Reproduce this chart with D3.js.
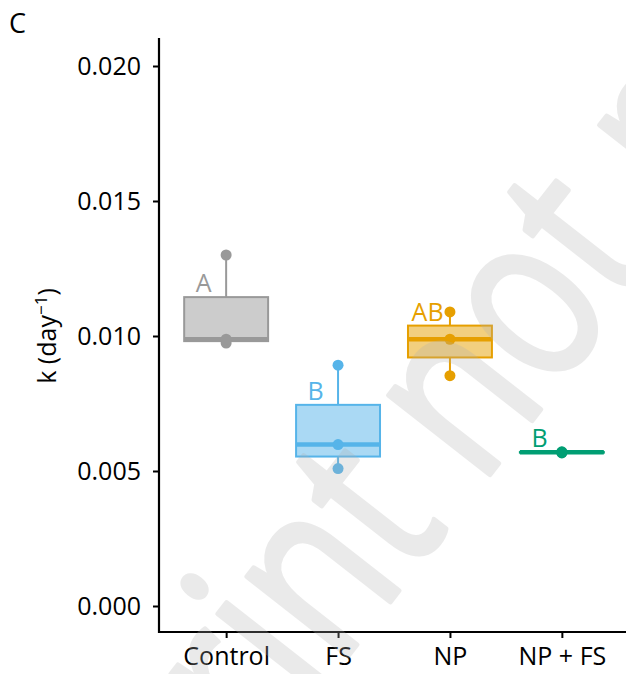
<!DOCTYPE html>
<html>
<head>
<meta charset="utf-8">
<script src="https://cdn.jsdelivr.net/npm/d3@7"></script>
<style>
  body { margin: 0; background: #fff; }
  svg text { font-family: "Open Sans", "Noto Sans", sans-serif; }
</style>
</head>
<body>
<div></div>
<script>
var outerWidth  = 626;
var outerHeight = 674;

// data
var groups  = ["Control", "FS", "NP", "NP + FS"];
var colors  = ["#999999", "#56B4E9", "#E69F00", "#009E73"];
var letters = ["A", "B", "AB", "B"];
var kControl = [0.00974, 0.00988, 0.01300];
var kFS      = [0.00509, 0.00598, 0.00892];
var kNP      = [0.00853, 0.00988, 0.01089];
var kNPFS    = [0.00567, 0.00569, 0.00571];
var yTicks   = [0.000, 0.005, 0.010, 0.015, 0.020];

var values = [kControl, kFS, kNP, kNPFS];

var svg = d3.select("div").append("svg")
  .attr("width", outerWidth)
  .attr("height", outerHeight);

var panel = { left: 159, right: 629, top: 38, bottom: 632 };

var xScale = d3.scalePoint().domain(groups)
  .range([panel.left, panel.right]).padding(0.6);
var step = xScale.step();
var yScale = d3.scaleLinear()
  .domain([-0.000963, 0.021037])
  .range([panel.bottom, panel.top]);

// summary stats, same as R's default quantile
var stats = groups.map(function (g, i) {
  var v = values[i].slice().sort(d3.ascending);
  return {
    group: g, color: colors[i], letter: letters[i], pts: v,
    min: v[0], max: v[v.length - 1],
    q1: d3.quantile(v, 0.25), med: d3.quantile(v, 0.5), q3: d3.quantile(v, 0.75)
  };
});

var g = svg.append("g");
var bw = step * 0.75;

var box = g.selectAll("g.box").data(stats).enter().append("g").attr("class", "box");

// whiskers
box.append("line")
  .attr("x1", function (d) { return xScale(d.group); })
  .attr("x2", function (d) { return xScale(d.group); })
  .attr("y1", function (d) { return yScale(d.q3); })
  .attr("y2", function (d) { return yScale(d.max); })
  .attr("stroke", function (d) { return d.color; })
  .attr("stroke-width", 2);
box.append("line")
  .attr("x1", function (d) { return xScale(d.group); })
  .attr("x2", function (d) { return xScale(d.group); })
  .attr("y1", function (d) { return yScale(d.q1); })
  .attr("y2", function (d) { return yScale(d.min); })
  .attr("stroke", function (d) { return d.color; })
  .attr("stroke-width", 2);

box.append("rect")
  .attr("x", function (d) { return xScale(d.group) - bw / 2; })
  .attr("width", bw)
  .attr("y", function (d) { return yScale(d.q3); })
  .attr("height", function (d) { return yScale(d.q1) - yScale(d.q3); })
  .attr("fill", function (d) { return d.color; })
  .attr("fill-opacity", 0.5)
  .attr("stroke", function (d) { return d.color; })
  .attr("stroke-width", 2);

box.append("line")
  .attr("x1", function (d) { return xScale(d.group) - bw / 2; })
  .attr("x2", function (d) { return xScale(d.group) + bw / 2; })
  .attr("y1", function (d) { return yScale(d.med); })
  .attr("y2", function (d) { return yScale(d.med); })
  .attr("stroke", function (d) { return d.color; })
  .attr("stroke-width", 4.5);

box.selectAll("circle").data(function (d) {
    return d.pts.map(function (p) { return { group: d.group, color: d.color, v: p }; });
  })
  .enter().append("circle")
  .attr("cx", function (d) { return xScale(d.group); })
  .attr("cy", function (d) { return yScale(d.v); })
  .attr("r", 5.5)
  .attr("fill", function (d) { return d.color; });

box.append("text")
  .attr("x", function (d) { return xScale(d.group) - step * 0.2; })
  .attr("y", function (d) { return yScale(d.q3) - 5; })
  .attr("text-anchor", "middle")
  .attr("font-size", 25)
  .attr("fill", function (d) { return d.color; })
  .text(function (d) { return d.letter; });

// axes
var yAxis = d3.axisLeft(yScale).tickValues(yTicks)
  .tickFormat(d3.format(".3f")).tickSize(6).tickPadding(12);
var gy = svg.append("g").attr("transform", "translate(" + panel.left + ",0)").call(yAxis);
gy.select(".domain").attr("d", "M0," + panel.top + "V" + (panel.bottom + 1))
  .attr("stroke", "#000").attr("stroke-width", 2.2);
gy.selectAll(".tick line").attr("stroke", "#000").attr("stroke-width", 2);
gy.selectAll(".tick text").attr("font-size", 25).attr("fill", "#000")
  .attr("font-family", "Open Sans").attr("dy", "0.36em");

var xAxis = d3.axisBottom(xScale).tickSize(6).tickPadding(9);
var gx = svg.append("g").attr("transform", "translate(0," + panel.bottom + ")").call(xAxis);
gx.select(".domain").attr("d", "M" + (panel.left - 1) + ",0H" + outerWidth)
  .attr("stroke", "#000").attr("stroke-width", 2.2);
gx.selectAll(".tick line").attr("stroke", "#000").attr("stroke-width", 2);
gx.selectAll(".tick text").attr("font-size", 25).attr("fill", "#000")
  .attr("font-family", "Open Sans");

// y title
var yt = svg.append("text")
  .attr("transform", "translate(56,336) rotate(-90)")
  .attr("text-anchor", "middle")
  .attr("font-size", 25)
  .attr("fill", "#000");
yt.append("tspan").text("k (day");
yt.append("tspan").attr("dy", -9).attr("font-size", 17).text("\u22121");
yt.append("tspan").attr("dy", 9).text(")");

// panel tag
svg.append("text").attr("x", 9).attr("y", 33)
  .attr("font-size", 27).attr("fill", "#000").text("C");

// preprint watermark
var wm = svg.append("g")
  .attr("transform", "translate(309,706) rotate(-52) scale(0.78,1)")
  .attr("opacity", 0.26)
  .attr("fill", "#b0b0b0").attr("stroke", "#b0b0b0").attr("stroke-width", 5)
  .attr("stroke-linejoin", "round")
  .attr("font-size", 240)
  .attr("font-family", "Liberation Sans");
wm.append("text").attr("text-anchor", "end").text("Prepr");
wm.append("text").attr("text-anchor", "start").text("int not peer reviewed");
</script>
</body>
</html>
